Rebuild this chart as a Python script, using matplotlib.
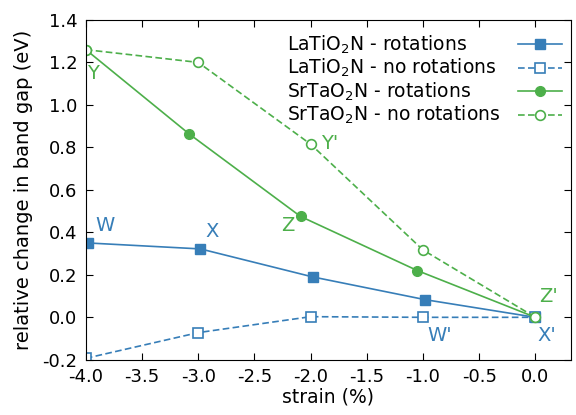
import numpy as np
import matplotlib
matplotlib.use('Agg')
import matplotlib.pyplot as plt

plt.rcParams['font.family'] = ['DejaVu Sans']
plt.rcParams['font.size'] = 13
plt.rcParams['mathtext.fontset'] = 'dejavusans'

blue = '#377eb8'
green = '#4daf4a'

# LaTiO2N
lto_rot_x = [-3.98, -2.98, -1.98, -0.98, 0.0]
lto_rot_y = [0.350, 0.322, 0.190, 0.083, 0.0]
lto_norot_x = [-4.0, -3.0, -2.0, -1.0, 0.0]
lto_norot_y = [-0.193, -0.072, 0.003, 0.0, 0.0]

# SrTaO2N
sto_rot_x = [-4.0, -3.08, -2.09, -1.05, 0.0]
sto_rot_y = [1.26, 0.863, 0.475, 0.220, 0.0]
sto_norot_x = [-4.0, -3.0, -2.0, -1.0, 0.0]
sto_norot_y = [1.26, 1.20, 0.815, 0.317, 0.0]

series_labels = [r'LaTiO$_2$N - rotations', r'LaTiO$_2$N - no rotations',
                 r'SrTaO$_2$N - rotations', r'SrTaO$_2$N - no rotations']

# point labels
lab_txt = ['W', 'X', 'Z', 'Y', "Y'", "Z'", "W'", "X'"]
lab_x = [-3.83, -2.88, -2.2, -3.94, -1.83, 0.12, -0.85, 0.10]
lab_y = [0.43, 0.405, 0.43, 1.15, 0.82, 0.10, -0.086, -0.086]
lab_c = [blue, blue, green, green, green, green, blue, blue]

fig = plt.figure(figsize=(5.76, 4.15), dpi=100)
ax = fig.add_axes([0.149, 0.133, 0.842, 0.819])

h1, = ax.plot(lto_rot_x, lto_rot_y, '-', color=blue, lw=1.2, marker='s', ms=7)
h2, = ax.plot(lto_norot_x, lto_norot_y, '--', color=blue, lw=1.2, marker='s', ms=7,
              mfc='white', mew=1.2, dashes=(4, 2))
h3, = ax.plot(sto_rot_x, sto_rot_y, '-', color=green, lw=1.2, marker='o', ms=7)
h4, = ax.plot(sto_norot_x, sto_norot_y, '--', color=green, lw=1.2, marker='o', ms=7,
              mfc='white', mew=1.2, dashes=(4, 2))

for t, x, y, c in zip(lab_txt, lab_x, lab_y, lab_c):
    ax.text(x, y, t, color=c, fontsize=14, ha='center', va='center')

ax.set_xlim(-4.0, 0.315)
ax.set_ylim(-0.2, 1.4)
ax.set_xticks(np.arange(-4.0, 0.01, 0.5))
ax.set_xticklabels(['%.1f' % v for v in np.arange(-4.0, 0.01, 0.5)])
ax.set_yticks(np.arange(-0.2, 1.41, 0.2))
ax.set_yticklabels(['%.1f' % v for v in np.arange(-0.2, 1.41, 0.2)])
ax.tick_params(direction='in', top=True, right=True, length=5, pad=6)
ax.set_xlabel('strain (%)', fontsize=13.5, labelpad=1)
ax.set_ylabel('relative change in band gap (eV)', fontsize=14, labelpad=7)

# legend: handles on the right, left-aligned texts
leg = ax.legend([h1, h2, h3, h4], [''] * 4, loc='upper right', frameon=False,
                bbox_to_anchor=(1.0, 1.0 - 7 / 340), markerfirst=False,
                fontsize=13.5, handlelength=2.35, handletextpad=0,
                labelspacing=0.24, borderaxespad=0.28, borderpad=0.2)
fig.canvas.draw()
r = fig.canvas.get_renderer()
inv = ax.transAxes.inverted()
for hd, lab in zip(leg.legend_handles, series_labels):
    bb = hd.get_window_extent(r)
    yc = inv.transform((0, (bb.y0 + bb.y1) / 2))[1]
    ax.text(0.414, yc, lab, transform=ax.transAxes, ha='left', va='center',
            fontsize=13.5)

fig.savefig('out.png', dpi=100)
